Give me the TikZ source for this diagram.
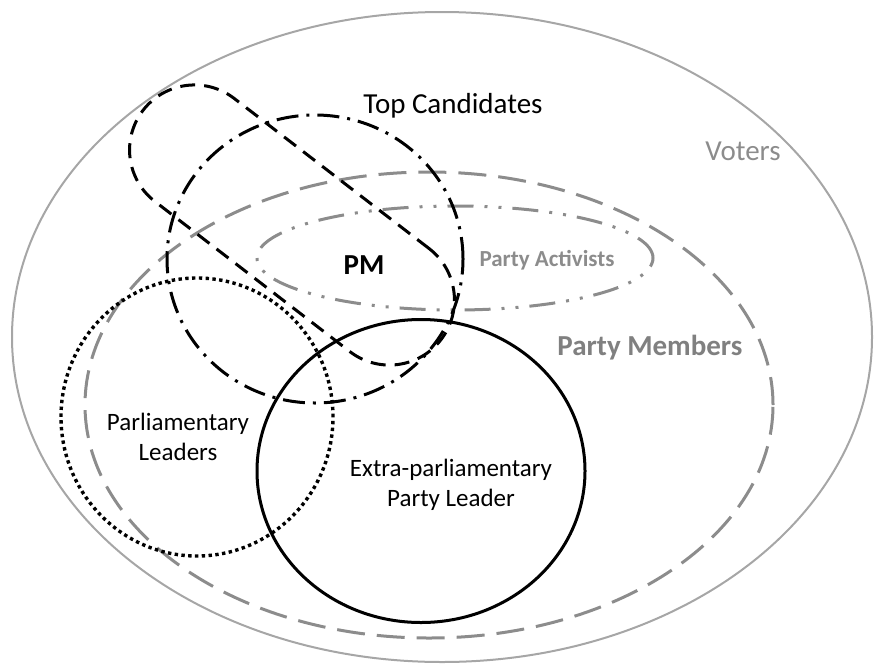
\documentclass[tikz,border=0pt]{standalone}
\usepackage{fontspec}
\setmainfont{Carlito}
\usetikzlibrary{shapes.geometric}
\definecolor{votergray}{HTML}{A6A6A6}
\definecolor{membergray}{HTML}{8C8C8C}
\definecolor{textgray}{HTML}{808080}
\tikzstyle{group} = [ellipse, line width=3pt, inner sep=0pt, draw=black]
\tikzstyle{bigtext} = [inner sep=0pt, font=\fontsize{29}{34}\selectfont]
\tikzstyle{midtext} = [inner sep=0pt, align=center, font=\fontsize{25}{30}\selectfont]
\tikzstyle{smalltext} = [inner sep=0pt, font=\fontsize{23}{28}\selectfont\bfseries]

\begin{document}
\begin{tikzpicture}[x=1pt, y=-1pt]
		\useasboundingbox (0,0) rectangle (874,664);
		\node (Voters) [group, draw=votergray, line width=2pt, minimum width=860pt, minimum height=650pt] at (442,337) {};
		\node (Members) [group, draw=membergray, dash pattern=on 28pt off 12pt, minimum width=688pt, minimum height=466pt] at (429,405) {};
		\node (Activists) [group, draw=membergray, dash pattern=on 26pt off 11pt on 3pt off 11pt on 3pt off 11pt, minimum width=396pt, minimum height=104pt] at (455,258) {};
		\node (Candidates) [group, dash pattern=on 22pt off 8pt on 3pt off 8pt, minimum width=296pt, minimum height=288pt] at (315,259) {};
		\node (PMOval) [rectangle, draw, line width=3pt, rounded corners=65pt, dash pattern=on 15pt off 9pt, minimum width=376pt, minimum height=130pt, rotate=-37.6] at (292,225) {};
		\node (ParlLeaders) [group, line width=3.4pt, dash pattern=on 3.4pt off 3.4pt, minimum width=272pt, minimum height=278pt] at (197,417) {};
		\node (ExtraLeader) [group, minimum width=328pt, minimum height=303pt] at (421,471) {};
		\node (CandidatesText) [bigtext, anchor=base] at (453,113) {Top Candidates};
		\node (VotersText) [bigtext, anchor=base, text=membergray] at (743,160) {Voters};
		\node (MembersText) [bigtext, anchor=base, text=textgray, font=\fontsize{29}{34}\selectfont\bfseries] at (650,355) {Party Members};
		\node (ActivistsText) [smalltext, anchor=base, text=membergray] at (547,266) {Party Activists};
		\node (PMText) [bigtext, anchor=base, font=\fontsize{29}{34}\selectfont\bfseries] at (364,274) {PM};
		\node (ParlText) [midtext] at (178,437) {Parliamentary\\Leaders};
		\node (ExtraText) [midtext] at (451,485) {Extra-parliamentary\\Party Leader};
\end{tikzpicture}
\end{document}
